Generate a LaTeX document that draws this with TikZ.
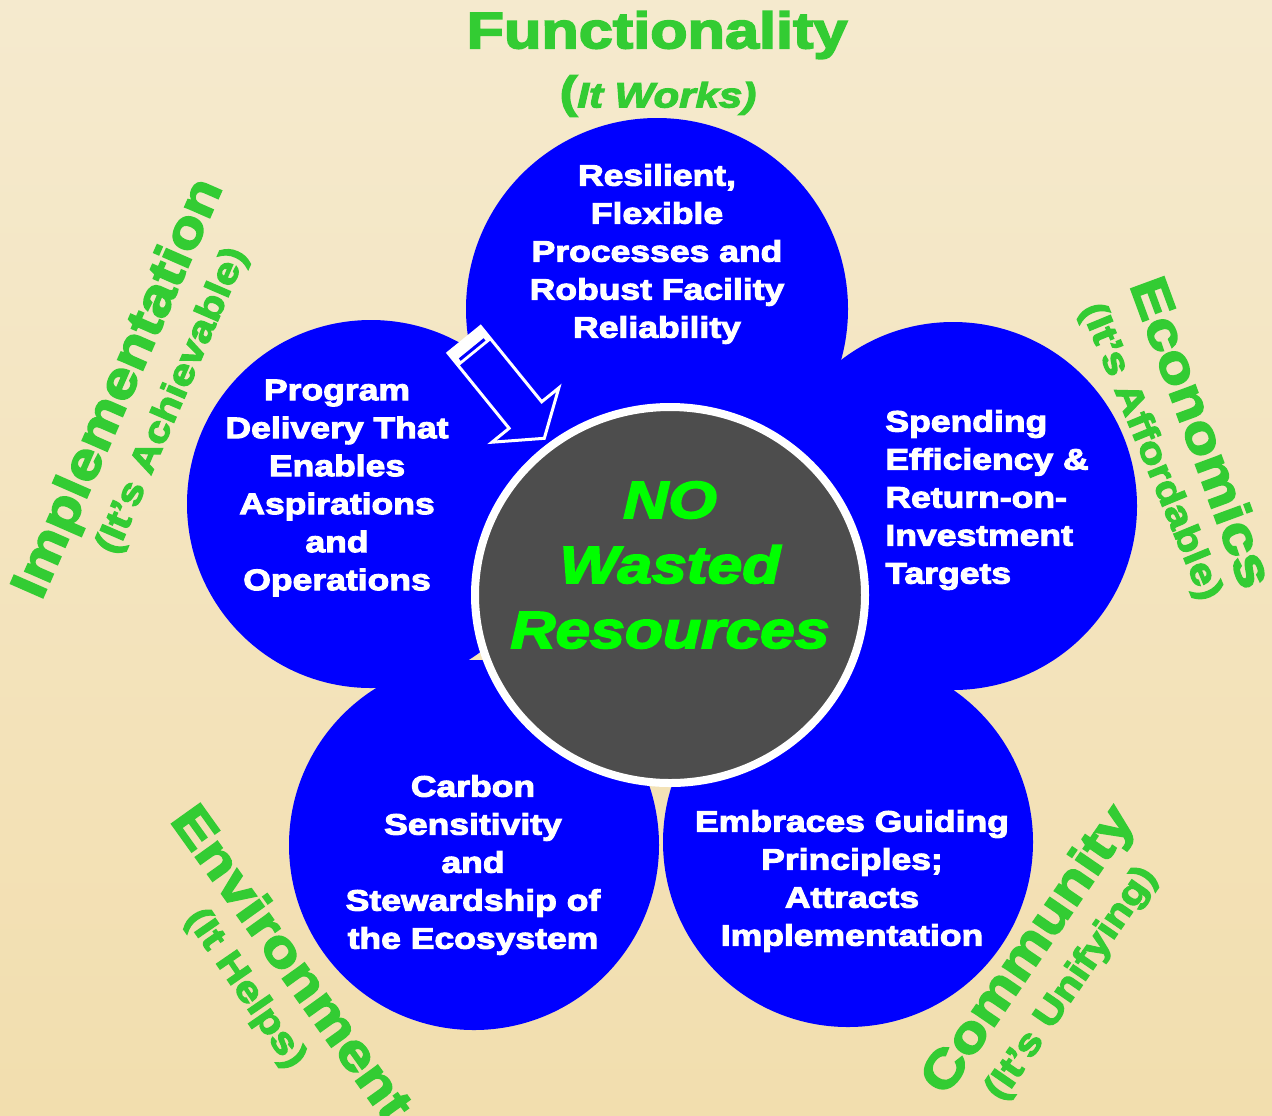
\documentclass[tikz,border=0pt]{standalone}
\usepackage{fontspec}
\usetikzlibrary{shapes.geometric}
% heavy wide sans used for every label
\newfontfamily\heavy{Liberation Sans}[UprightFont=* Bold, ItalicFont=* Bold Italic, BoldFont=* Bold, FakeStretch=1.2, FakeBold=3.5]
\definecolor{bgtop}{RGB}{245,234,206}
\definecolor{bgbot}{RGB}{242,222,174}
\definecolor{petalblue}{RGB}{0,0,255}
\definecolor{headgreen}{RGB}{51,204,51}
\definecolor{coregreen}{RGB}{0,255,0}
\definecolor{coregray}{RGB}{77,77,77}
\tikzset{
  petal/.style={circle, fill=petalblue, draw=none, inner sep=0pt, outer sep=0pt},
  body/.style={text=white, font=\heavy\fontsize{14.8pt}{19pt}\selectfont, align=center, inner sep=0pt},
  head/.style={text=headgreen, font=\heavy\fontsize{25.5pt}{30pt}\selectfont, inner sep=0pt},
  sub/.style={text=headgreen, font=\heavy\fontsize{18pt}{22pt}\selectfont, inner sep=0pt},
  core/.style={ellipse, fill=coregray, draw=white, line width=4pt, minimum width=195pt, minimum height=188pt, inner sep=0pt},
  coretext/.style={text=coregreen, font=\heavy\itshape\fontsize{26pt}{32.5pt}\selectfont, align=center, inner sep=0pt},
  pointer/.style={draw=white, line width=1.5pt, line join=miter},
}
\begin{document}
\begin{tikzpicture}[x=0.5pt, y=-0.5pt]
  % background
  \useasboundingbox (0,0) rectangle (1272,1115);
  \shade[top color=bgtop, bottom color=bgbot] (0,0) rectangle (1272,1115);

  % five petals
  \node[petal, minimum size=191pt] (pTop)   at (657,309) {};
  \node[petal, minimum size=184pt] (pLeft)  at (371,504) {};
  \node[petal, minimum size=184pt] (pRight) at (953,506) {};
  \node[petal, minimum size=185pt] (pBL)    at (474,845) {};
  \node[petal, minimum size=185pt] (pBR)    at (848,842) {};

  % petal texts
  \node[body] (tTop) at (657,254) {Resilient,\\Flexible\\Processes and\\Robust Facility\\Reliability};
  \node[body] (tLeft) at (337,488) {Program\\Delivery That\\Enables\\Aspirations\\and\\Operations};
  \node[body, align=left, anchor=west] (tRight) at (885,500) {Spending\\Efficiency \&\\Return-on-\\Investment\\Targets};
  \node[body] (tBL) at (473,865) {Carbon\\Sensitivity\\and\\Stewardship of\\the Ecosystem};
  \node[body] (tBR) at (852,881) {Embraces Guiding\\Principles;\\Attracts\\Implementation};

  % block arrow pointing to the core
  \draw[pointer] (448,353) -- (509.1,428.3) -- (492,442.2) -- (544.3,438.3)
     -- (558.8,387.9) -- (541.7,401.8) -- (480.6,326.5) -- cycle;
  \fill[white] (448,353) -- (480.6,326.5) -- (491.3,339.7) -- (458.7,366.2) -- cycle;
  \fill[petalblue] (458.8,358.4) -- (483.6,338.2) -- (485.5,340.6) -- (460.7,360.8) -- cycle;

  % core
  \node[core] (core) at (670,595) {};
  \node[coretext] (coreText) at (670,565) {NO\\Wasted\\Resources};

  % outer headings
  \node[head] (hFun) at (657,35) {Functionality};
  \node[sub, font=\heavy\fontsize{17.5pt}{22pt}\selectfont] (sFun) at (658,96)
     {{\fontsize{22pt}{22pt}\selectfont(}{\itshape It Works)}};

  \node[head, rotate=66.3] (hImp) at (120,389) {Implementation};
  \node[sub, rotate=66.6] (sImp) at (173,401) {(It’s Achievable)};

  \node[head, rotate=-69.8] (hEco) at (1203,432) {Economics};
  \node[sub, rotate=-67.6] (sEco) at (1150,452) {(It’s Affordable)};

  \node[head, rotate=-54.4] (hEnv) at (293,962) {Environment};
  \node[sub, rotate=-55.5] (sEnv) at (245,989) {(It Helps)};

  \node[head, rotate=55.6] (hCom) at (1030,951) {Community};
  \node[sub, rotate=55.5] (sCom) at (1072,984) {(It’s Unifying)};
\end{tikzpicture}
\end{document}
